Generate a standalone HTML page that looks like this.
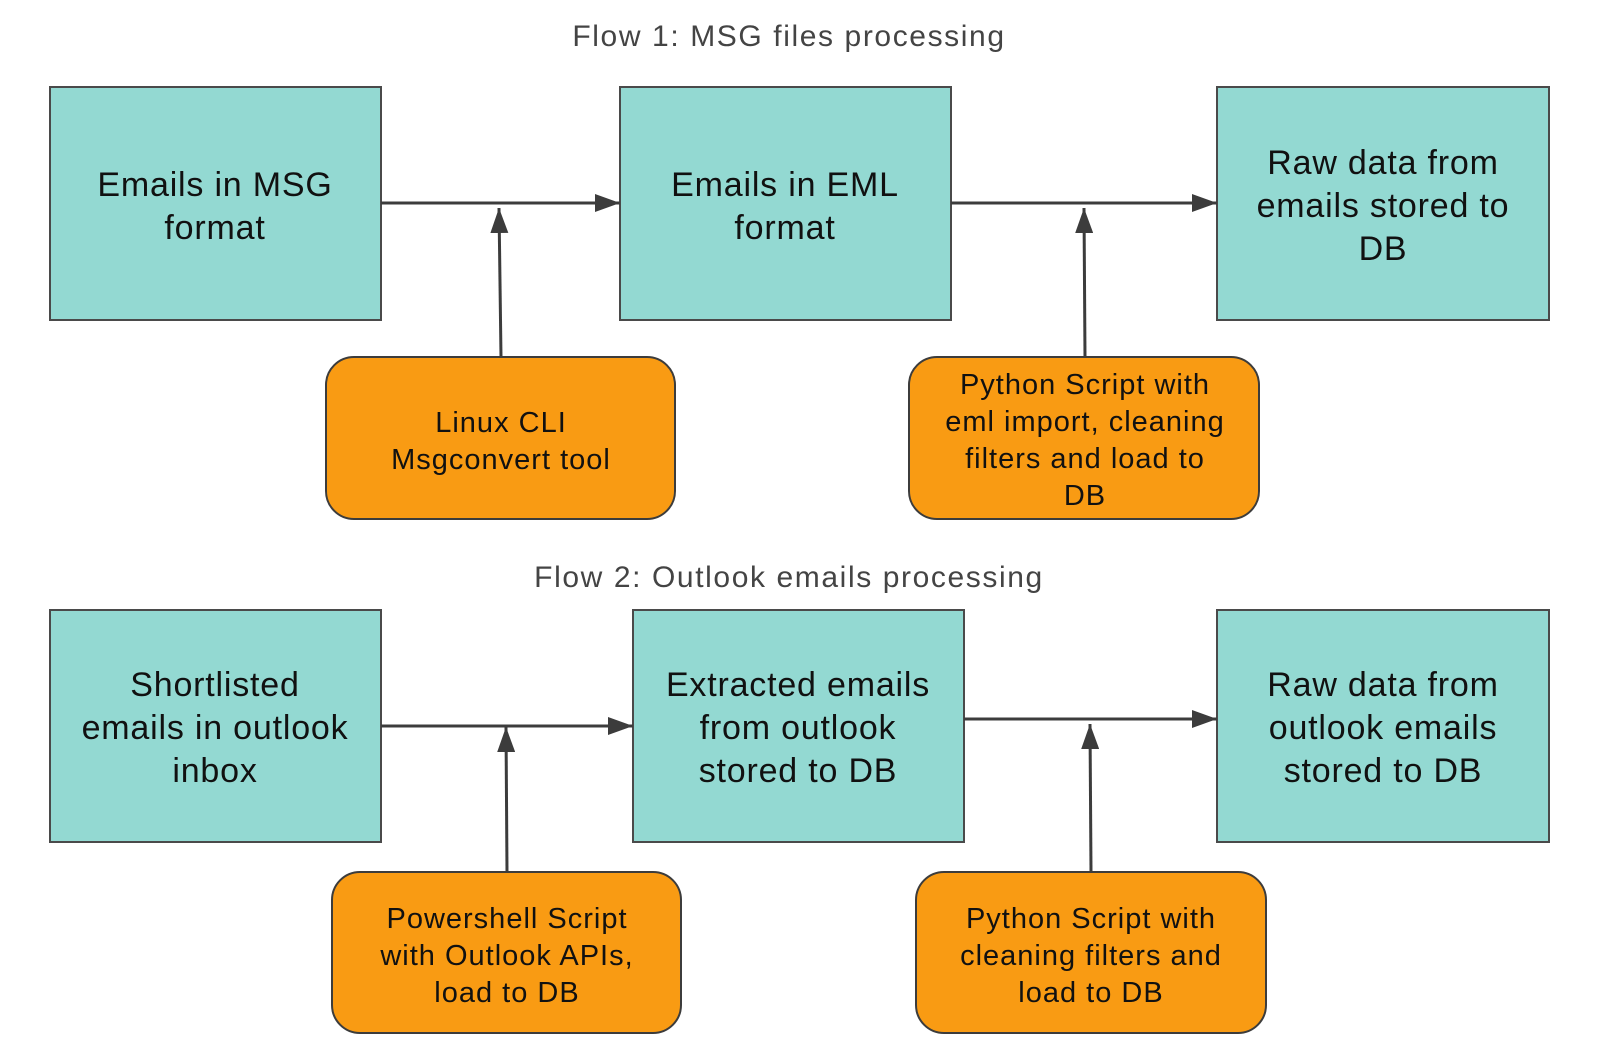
<!DOCTYPE html>
<html><head><meta charset="utf-8"><style>
html,body{margin:0;padding:0;background:#fff;}
svg text{font-family:"Liberation Sans",sans-serif;}
</style></head><body>
<svg width="1600" height="1039" viewBox="0 0 1600 1039" xmlns="http://www.w3.org/2000/svg">
<defs><marker id="a" markerWidth="25" markerHeight="18" refX="25" refY="9" orient="auto" markerUnits="userSpaceOnUse"><path d="M0,0 L25,9 L0,18 Z" fill="#3c3c3c"/></marker></defs>
<g font-size="30" fill="#444" text-anchor="middle" letter-spacing="1.6">
<text x="789" y="46">Flow 1: MSG files processing</text>
<text x="789" y="587">Flow 2: Outlook emails processing</text>
</g>
<g fill="#93d9d2" stroke="#4a4a4a" stroke-width="2">
<rect x="50" y="87" width="331" height="233"/>
<rect x="620" y="87" width="331" height="233"/>
<rect x="1217" y="87" width="332" height="233"/>
<rect x="50" y="610" width="331" height="232"/>
<rect x="633" y="610" width="331" height="232"/>
<rect x="1217" y="610" width="332" height="232"/>
</g>
<g fill="#f99b13" stroke="#3c3c3c" stroke-width="2">
<rect x="326" y="357" width="349" height="162" rx="28"/>
<rect x="909" y="357" width="350" height="162" rx="28"/>
<rect x="332" y="872" width="349" height="161" rx="28"/>
<rect x="916" y="872" width="350" height="161" rx="28"/>
</g>
<g stroke="#3c3c3c" stroke-width="3" fill="none" marker-end="url(#a)">
<line x1="381" y1="203" x2="620" y2="203"/>
<line x1="951" y1="203" x2="1217" y2="203"/>
<line x1="501" y1="357" x2="499" y2="208"/>
<line x1="1085" y1="357" x2="1084" y2="208"/>
<line x1="381" y1="726" x2="633" y2="726"/>
<line x1="964" y1="719" x2="1217" y2="719"/>
<line x1="507" y1="872" x2="506" y2="727"/>
<line x1="1091" y1="872" x2="1090" y2="724"/>
</g>
<g font-size="34" fill="#111" text-anchor="middle" letter-spacing="0.8">
<text x="215" y="196">Emails in MSG</text><text x="215" y="239">format</text>
<text x="785" y="196">Emails in EML</text><text x="785" y="239">format</text>
<text x="1383" y="174">Raw data from</text><text x="1383" y="217">emails stored to</text><text x="1383" y="260">DB</text>
<text x="215" y="696">Shortlisted</text><text x="215" y="739">emails in outlook</text><text x="215" y="782">inbox</text>
<text x="798" y="696">Extracted emails</text><text x="798" y="739">from outlook</text><text x="798" y="782">stored to DB</text>
<text x="1383" y="696">Raw data from</text><text x="1383" y="739">outlook emails</text><text x="1383" y="782">stored to DB</text>
</g>
<g font-size="29" fill="#111" text-anchor="middle" letter-spacing="1">
<text x="501" y="432">Linux CLI</text><text x="501" y="469">Msgconvert tool</text>
<text x="1085" y="394">Python Script with</text><text x="1085" y="431">eml import, cleaning</text><text x="1085" y="468">filters and load to</text><text x="1085" y="505">DB</text>
<text x="507" y="928">Powershell Script</text><text x="507" y="965">with Outlook APIs,</text><text x="507" y="1002">load to DB</text>
<text x="1091" y="928">Python Script with</text><text x="1091" y="965">cleaning filters and</text><text x="1091" y="1002">load to DB</text>
</g>
</svg>
</body></html>
